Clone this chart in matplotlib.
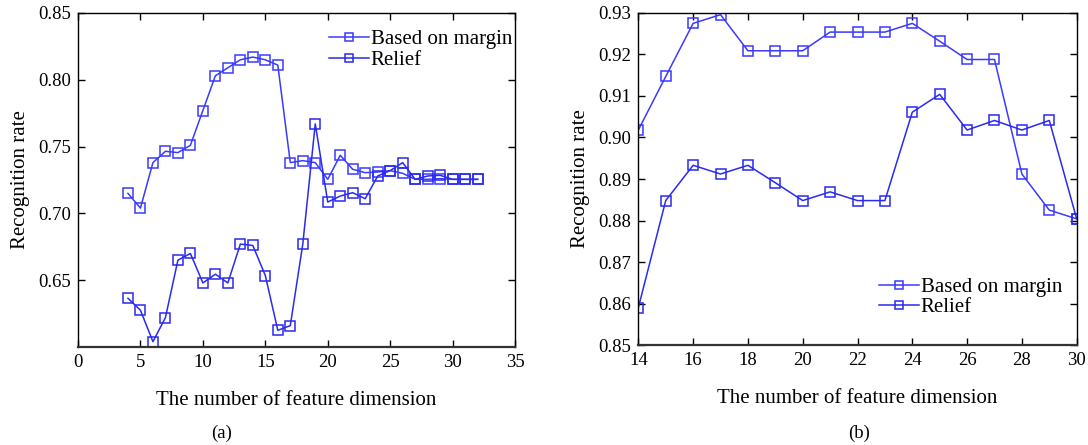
import matplotlib
matplotlib.use("Agg")
import matplotlib.pyplot as plt

plt.rcParams['font.family'] = ['Liberation Serif', 'DejaVu Serif']

# Panel (a)
dims_a = list(range(4, 33))
margin_a = [0.715, 0.704, 0.738, 0.7465, 0.7455, 0.751, 0.777, 0.803, 0.809, 0.815,
            0.817, 0.815, 0.811, 0.738, 0.7395, 0.738, 0.7255, 0.7435, 0.733, 0.7305,
            0.731, 0.732, 0.730, 0.7255, 0.7255, 0.726, 0.7255, 0.7255, 0.7255]
relief_a = [0.6365, 0.6275, 0.604, 0.622, 0.665, 0.670, 0.648, 0.6545, 0.648, 0.677,
            0.676, 0.6535, 0.6125, 0.616, 0.677, 0.767, 0.7085, 0.713, 0.7155, 0.711,
            0.728, 0.732, 0.738, 0.7255, 0.728, 0.7285, 0.7255, 0.7255, 0.7255]

# Panel (b)
dims_b = list(range(14, 31))
margin_b = [0.9018, 0.9147, 0.9275, 0.9296, 0.9209, 0.9209, 0.9209, 0.9254, 0.9254,
            0.9254, 0.9275, 0.9232, 0.9188, 0.9188, 0.8912, 0.8825, 0.8804]
relief_b = [0.859, 0.8848, 0.8933, 0.8912, 0.8933, 0.8891, 0.8848, 0.8869, 0.8848,
            0.8848, 0.9061, 0.9104, 0.9018, 0.9041, 0.9018, 0.9041, 0.8804]

labels = ["Based on margin", "Relief"]
xticks_a = [0, 5, 10, 15, 20, 25, 30, 35]
yticks_a = [0.65, 0.70, 0.75, 0.80, 0.85]
xticks_b = [14, 16, 18, 20, 22, 24, 26, 28, 30]
yticks_b = [0.85, 0.86, 0.87, 0.88, 0.89, 0.90, 0.91, 0.92, 0.93]

c_margin = '#3a3aff'
c_relief = '#2a2af0'

fig = plt.figure(figsize=(10.88, 4.45), dpi=100)
ax1 = fig.add_axes([0.0717, 0.2202, 0.4017, 0.7506])
ax2 = fig.add_axes([0.5867, 0.2247, 0.4029, 0.7461])

fs_tick = 13.5
fs_lab = 15
mk = dict(marker='s', markersize=7, markerfacecolor='none', linewidth=1.1, markeredgewidth=1.1)

ax1.plot(dims_a, margin_a, color=c_margin, label=labels[0], **mk)
ax1.plot(dims_a, relief_a, color=c_relief, label=labels[1], **mk)
ax1.set_xlim(0, 35)
ax1.set_ylim(0.60, 0.85)
ax1.set_xticks(xticks_a)
ax1.set_yticks(yticks_a)
ax1.set_yticklabels([f"{v:.2f}" for v in yticks_a])

ax2.plot(dims_b, margin_b, color=c_margin, label=labels[0], **mk)
ax2.plot(dims_b, relief_b, color=c_relief, label=labels[1], **mk)
ax2.set_xlim(14, 30)
ax2.set_ylim(0.85, 0.93)
ax2.set_xticks(xticks_b)
ax2.set_yticks(yticks_b)
ax2.set_yticklabels([f"{v:.2f}" for v in yticks_b])

for ax in (ax1, ax2):
    ax.tick_params(direction='in', top=True, right=True, labelsize=fs_tick, length=5, width=1, pad=5)
    for s in ax.spines.values():
        s.set_linewidth(1.0)
    ax.spines['bottom'].set_linewidth(1.6)
    ax.spines['bottom'].set_color('#333333')
    ax.set_xlabel("The number of feature dimension", fontsize=fs_lab, labelpad=14.5)
    ax.set_ylabel("Recognition rate", fontsize=fs_lab, labelpad=6)

leg_kw = dict(fontsize=fs_lab, frameon=False, handlelength=1.9, handletextpad=0.1,
              borderaxespad=0.0, borderpad=0.0, labelspacing=0.05, markerscale=0.75)
ax1.legend(loc='upper right', bbox_to_anchor=(0.993, 0.95), **leg_kw)
ax2.legend(loc='lower right', bbox_to_anchor=(0.967, 0.083), **leg_kw)

fig.text(0.204, 0.027, "(a)", fontsize=fs_tick, ha='center', va='center')
fig.text(0.79, 0.027, "(b)", fontsize=fs_tick, ha='center', va='center')

fig.savefig("out.png", dpi=100)
